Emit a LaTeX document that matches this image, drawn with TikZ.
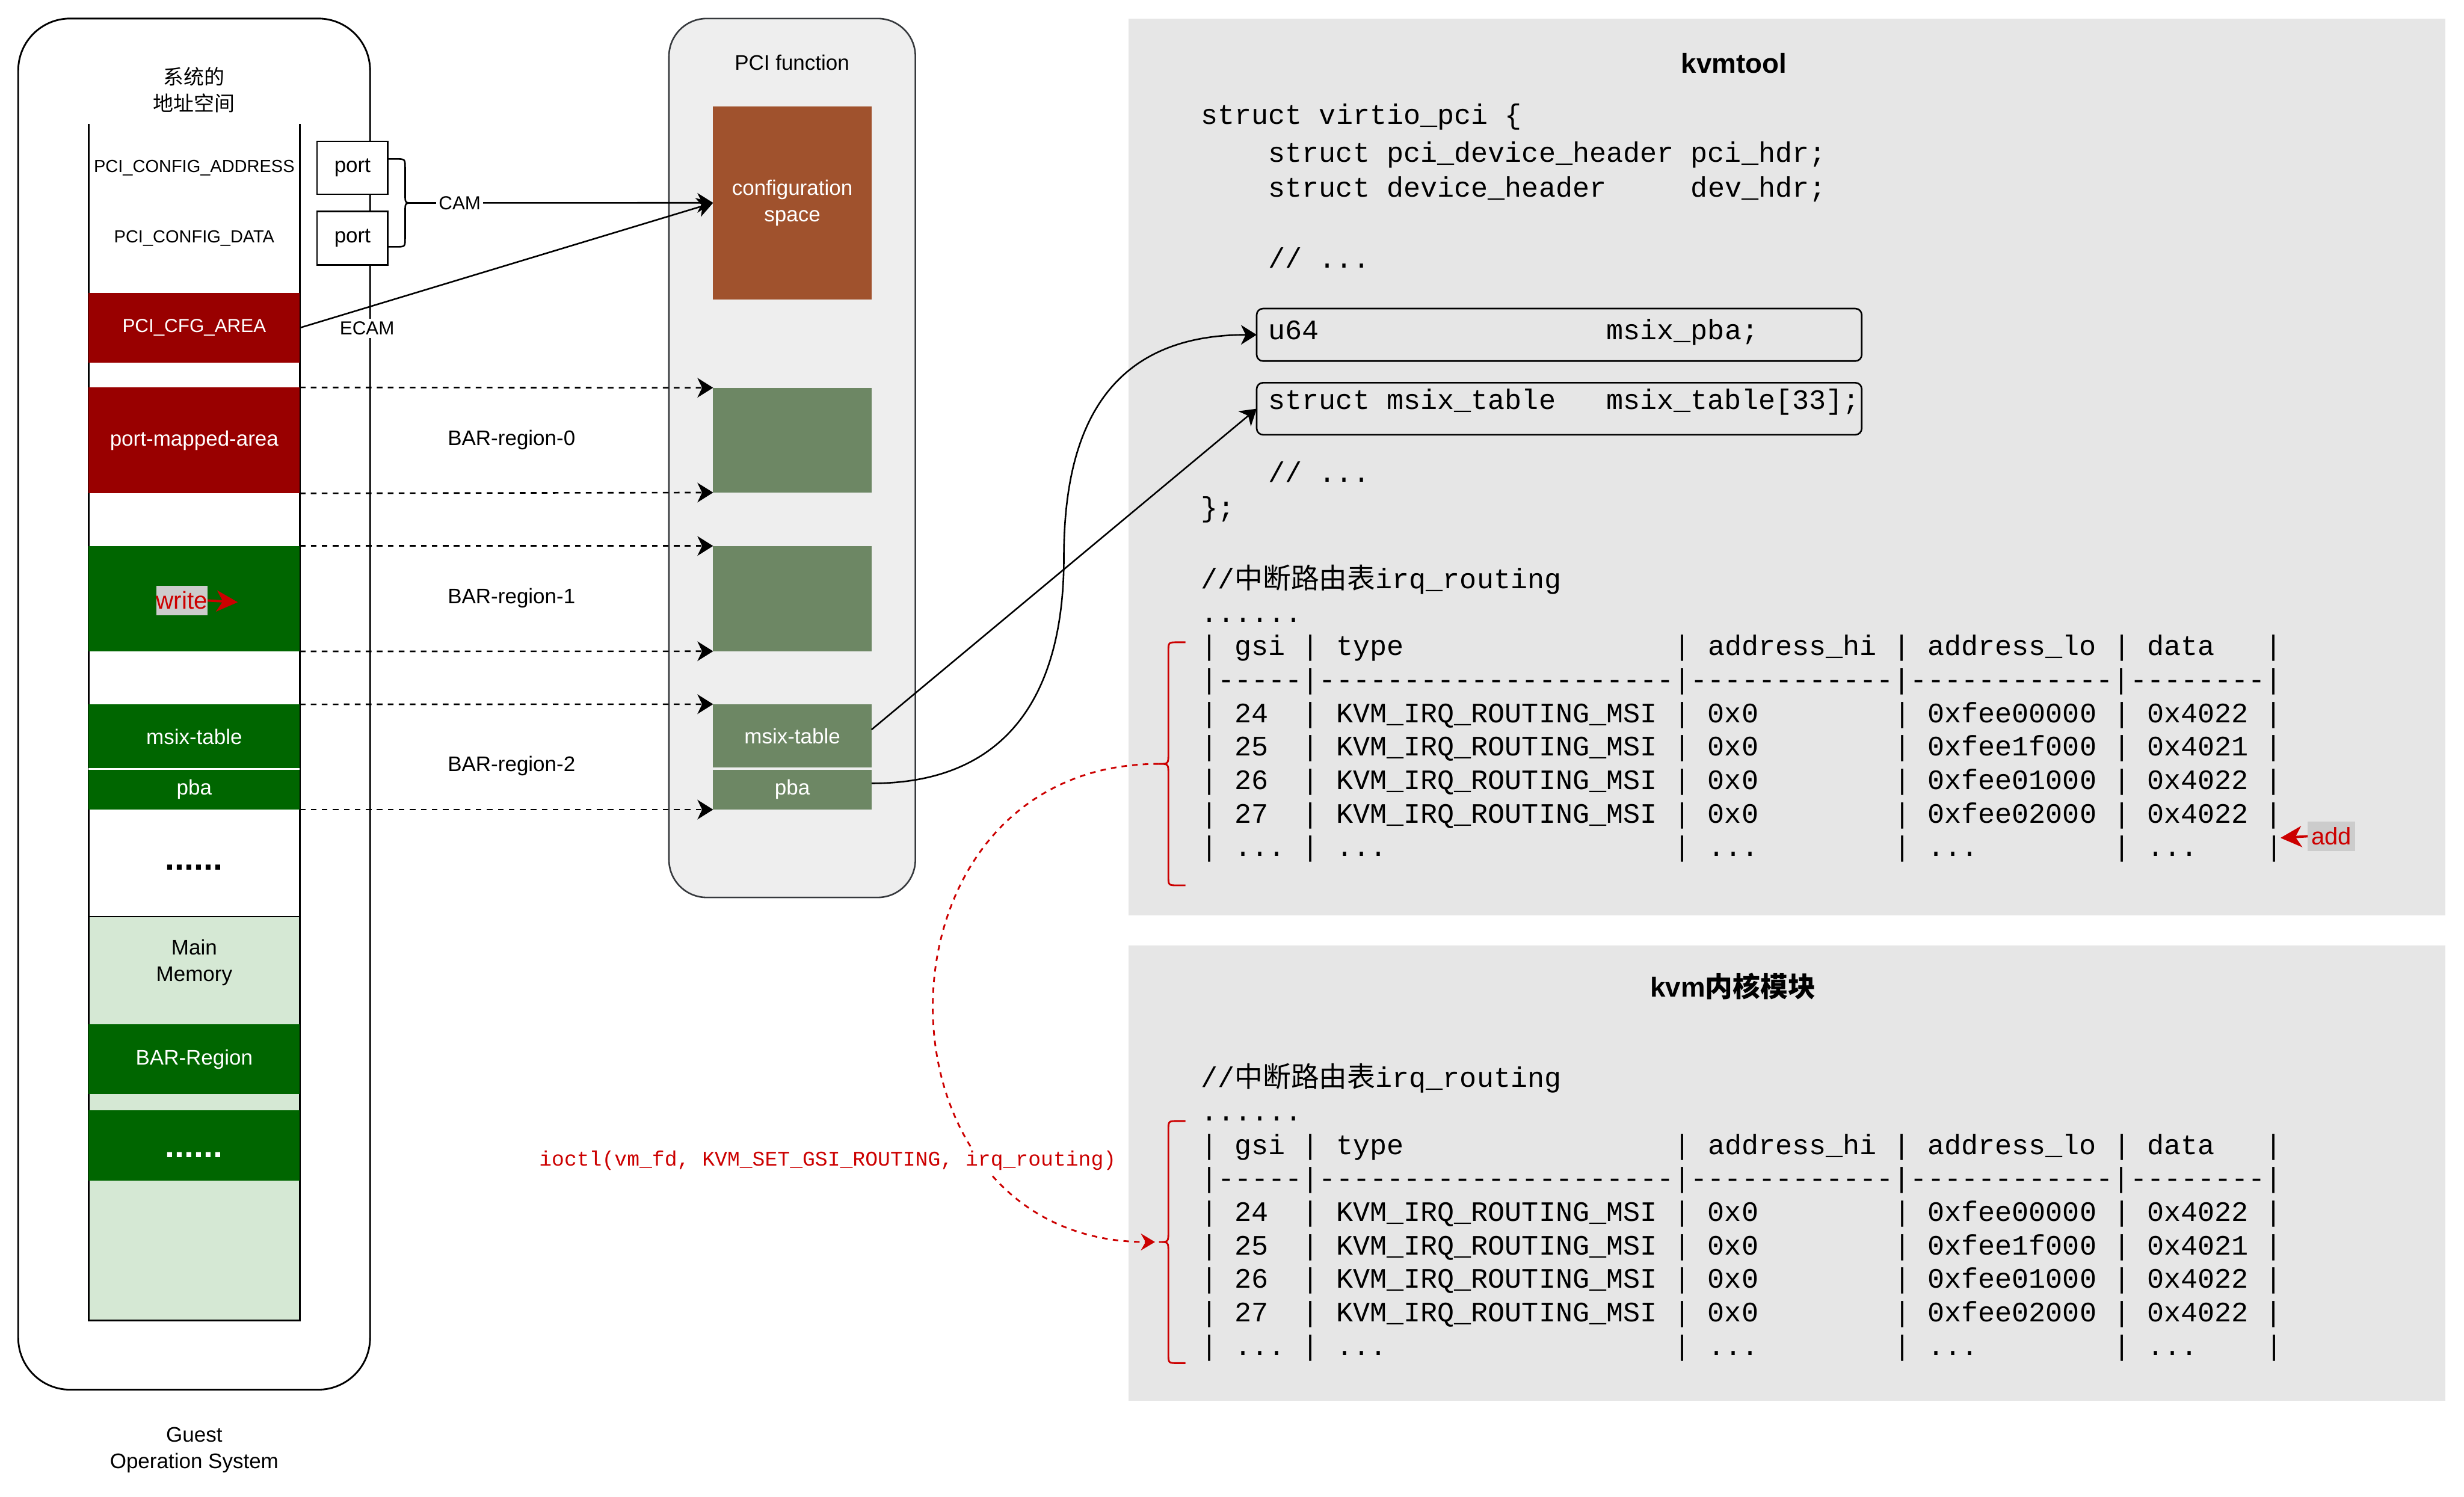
\documentclass[tikz,border=0pt]{standalone}
\usepackage{fontspec}
\setmainfont{Liberation Sans}
\setsansfont{Liberation Sans}
\setmonofont{Liberation Mono}
\newfontfamily\cjk{Noto Sans CJK SC}
\usetikzlibrary{arrows.meta}
\definecolor{darkred}{HTML}{990000}
\definecolor{dgreen}{HTML}{006600}
\definecolor{sienna}{HTML}{A0522D}
\definecolor{sage}{HTML}{6D8764}
\definecolor{mintg}{HTML}{D5E8D4}
\definecolor{pcifill}{HTML}{EEEEEE}
\definecolor{pcistroke}{HTML}{36393D}
\definecolor{panel}{HTML}{E6E6E6}
\definecolor{redl}{HTML}{CC0000}
\definecolor{wbg}{HTML}{CCCCCC}
\newcommand\mkbox[7]{\node[blk,#6,minimum width={(#4-#2)*1pt},minimum height={(#5-#3)*1pt}] (#1) at (#2,#3) {#7};}
\newcommand\redbrace[3]{\draw[rbr] (754.4,#1) -- (749.5,#1) .. controls (743.5,#1) .. (743.5,#1+6) -- (743.5,#2-6.5) .. controls (743.5,#2) .. (737.5,#2) .. controls (743.5,#2) .. (743.5,#2+6.5) -- (743.5,#3-6) .. controls (743.5,#3) .. (749.5,#3) -- (754.4,#3);}
\tikzset{
  blk/.style={inner sep=0pt, outer sep=0pt, anchor=north west},
  f13/.style={font=\fontsize{13.4}{16.8}\selectfont},
  lbl/.style={inner sep=0pt, align=center, f13},
  cline/.style={inner sep=0pt, anchor=base west, font=\ttfamily\fontsize{17.92}{21.3}\selectfont},
  arr/.style={-{Stealth[length=10pt,width=12.5pt,inset=3pt]}, line width=1pt},
  dsh/.style={arr, dash pattern=on 3.6pt off 3.4pt},
  warr/.style={-{Stealth[length=13.5pt,width=13.5pt,inset=4pt]}, line width=1.5pt, draw=redl},
  rbr/.style={draw=redl, line width=1.1pt},
}
\begin{document}
\begin{tikzpicture}[x=1pt,y=-1pt]
\fill[white] (0,0) rectangle (1568,952.45);
\useasboundingbox (0,0) rectangle (1568,952.45);

% ---------- Guest OS ----------
\mkbox{guest}{11.6}{11.8}{235.5}{884.5}{draw, line width=1.1pt, rounded corners=33pt}{}
\node[lbl, font=\cjk\fontsize{13}{16.8}\selectfont] (addrsp) at (123.6,57.4) {系统的\\地址空间};
\draw[line width=1pt] (56.4,79) -- (56.4,583.4);
\draw[line width=1pt] (190.8,79) -- (190.8,583.4);
\node[lbl, font=\fontsize{11.1}{13}\selectfont] (cfgaddr) at (123.6,106.8) {PCI\_CONFIG\_ADDRESS};
\node[lbl, font=\fontsize{11.1}{13}\selectfont] (cfgdata) at (123.6,151.6) {PCI\_CONFIG\_DATA};

\mkbox{port1}{201.8}{90}{246.8}{123.7}{draw, fill=white, line width=1pt, f13}{port}
\mkbox{port2}{201.8}{134.6}{246.8}{168.7}{draw, fill=white, line width=1pt, f13}{port}

\mkbox{cfgarea}{56.4}{186.3}{190.8}{231}{fill=darkred, text=white, font=\fontsize{12}{14}\selectfont}{PCI\_CFG\_AREA}
\mkbox{pmarea}{56.4}{246.6}{190.8}{314}{fill=darkred, text=white, f13}{port-mapped-area}
\mkbox{bar1L}{56.4}{347.5}{190.8}{414.6}{fill=dgreen}{}
\mkbox{msixL}{56.4}{448.3}{190.8}{489.4}{fill=dgreen, text=white, f13}{msix-table}
\mkbox{pbaL}{56.4}{489.4}{190.8}{515.3}{fill=dgreen, text=white, f13}{pba}
\draw[white, line width=1pt] (msixL.south west) -- (msixL.south east);
\node[inner sep=0pt, font=\bfseries\fontsize{22}{26}\selectfont] (dots1) at (123.6,552.2) {......};

\mkbox{mainmem}{56.4}{583.4}{190.8}{840.5}{draw, fill=mintg, line width=1pt}{}
\node[lbl] (mmtxt) at (123.6,612.5) {Main\\Memory};
\mkbox{barreg}{56.4}{652}{190.8}{696.5}{fill=dgreen, text=white, f13}{BAR-Region}
\mkbox{dotsg}{56.4}{706.6}{190.8}{751.5}{fill=dgreen}{}
\node[inner sep=0pt, text=white, font=\bfseries\fontsize{22}{26}\selectfont] (dots2) at (123.6,735) {......};
\node[lbl] (guestlbl) at (123.6,923) {Guest\\Operation System};

\mkbox{write}{99.4}{372.8}{132}{391.6}{fill=wbg, text=redl, font=\fontsize{15.5}{18}\selectfont}{write}
\coordinate (wtip) at (151.3,383.3);
\draw[warr] (write.east) -- (wtip);

% ---------- PCI function ----------
\mkbox{pcif}{425.7}{11.8}{582.5}{571.2}{draw=pcistroke, fill=pcifill, line width=1pt, rounded corners=24pt}{}
\node[lbl] (pcit) at (504,40) {PCI function};
\mkbox{config}{453.8}{67.6}{554.6}{190.6}{fill=sienna, text=white, f13, align=center}{configuration\\space}
\mkbox{bar0R}{453.8}{246.8}{554.6}{313.5}{fill=sage}{}
\mkbox{bar1R}{453.8}{347.5}{554.6}{414.5}{fill=sage}{}
\mkbox{msixR}{453.8}{448.2}{554.6}{488.6}{fill=sage, text=white, f13}{msix-table}
\mkbox{pbaR}{453.8}{489.9}{554.6}{515.3}{fill=sage, text=white, f13}{pba}

% ---------- CAM / ECAM ----------
\draw[line width=1pt] (246.8,101.2) -- (252,101.2) .. controls (257.8,101.2) .. (257.8,107) -- (257.8,123.4) .. controls (257.8,129.2) .. (262.3,129.2) .. controls (257.8,129.2) .. (257.8,135) -- (257.8,151.3) .. controls (257.8,157.1) .. (252,157.1) -- (246.8,157.1);
\coordinate (camtip) at (262.3,129.2);
\draw[arr] (camtip) -- (config.west) node[pos=0.158, fill=white, inner sep=1.5pt, font=\fontsize{12}{14}\selectfont] (cam) {CAM};
\draw[arr] (cfgarea.east) -- (config.west);
\node[fill=white, inner sep=2pt, font=\fontsize{12}{14}\selectfont] (ecam) at (233.6,209) {ECAM};

% ---------- BAR mappings ----------
\draw[dsh] (pmarea.north east) -- (bar0R.north west);
\draw[dsh] (pmarea.south east) -- (bar0R.south west);
\draw[dsh] (bar1L.north east) -- (bar1R.north west);
\draw[dsh] (bar1L.south east) -- (bar1R.south west);
\draw[dsh] (msixL.north east) -- (msixR.north west);
\draw[dsh] (pbaL.south east) -- (pbaR.south west);
\node[lbl] (br0) at (325.5,280) {BAR-region-0};
\node[lbl] (br1) at (325.5,380.5) {BAR-region-1};
\node[lbl] (br2) at (325.5,487.5) {BAR-region-2};

% ---------- kvmtool panel ----------
\mkbox{kvmtool}{718}{11.8}{1556}{582.5}{fill=panel}{}
\node[inner sep=0pt, font=\bfseries\fontsize{17.5}{21}\selectfont] (kvmtitle) at (1103.4,40.2) {kvmtool};
\mkbox{kvmmod}{718}{601.6}{1556}{891.7}{fill=panel}{}
\node[inner sep=0pt, font=\bfseries\fontsize{17.5}{21}\selectfont] (modtitle) at (1102.7,627.8) {kvm{\cjk 内核模块}};

\node[cline] (l1) at (764,79.2) {struct~virtio\_pci~\{};
\node[cline] (l2) at (807,103.1) {struct~pci\_device\_header~pci\_hdr;};
\node[cline] (l3) at (807,125.4) {struct~device\_header~~~~~dev\_hdr;};
\node[cline] (l4) at (807,170.7) {//~...};
\node[cline] (l5) at (807,216.0) {u64~~~~~~~~~~~~~~~~~msix\_pba;};
\node[cline] (l6) at (807,260.6) {struct~msix\_table~~~msix\_table[33];};
\node[cline] (l7) at (807,306.8) {//~...};
\node[cline] (l8) at (764,329) {\};};
\mkbox{u64box}{799.7}{196.4}{1184.7}{229.8}{draw, line width=1pt, rounded corners=4pt}{}
\mkbox{mtbox}{799.7}{243.6}{1184.7}{276.7}{draw, line width=1pt, rounded corners=4pt}{}

\foreach \off/\nm in {0/u,317.5/l}{
  \node[cline] (\nm cmt) at (764,374.6+\off) {//{\cjk 中断路由表}irq\_routing};
  \node[cline] (\nm dots) at (764,395.9+\off) {......};
  \node[cline] (\nm hdr) at (764,417.2+\off) {|~gsi~|~type~~~~~~~~~~~~~~~~|~address\_hi~|~address\_lo~|~data~~~|};
  \node[cline] (\nm sep) at (764,438.5+\off) {|-----|---------------------|------------|------------|--------|};
  \foreach \g/\lo/\d [count=\i] in {24/0xfee00000/0x4022,25/0xfee1f000/0x4021,26/0xfee01000/0x4022,27/0xfee02000/0x4022}
    \node[cline] (\nm r\i) at (764,438.5+21.3*\i+\off) {|~\g~~|~KVM\_IRQ\_ROUTING\_MSI~|~0x0~~~~~~~~|~\lo~|~\d~|};
  \node[cline] (\nm last) at (764,545.0+\off) {|~...~|~...~~~~~~~~~~~~~~~~~|~...~~~~~~~~|~...~~~~~~~~|~...~~~~|};
}

% ---------- connectors to kvmtool ----------
\draw[arr] ([yshift=4pt]msixR.east) -- (mtbox.west);
\draw[arr] ([yshift=4pt]pbaR.east) .. controls (650,498.6) and (677,430) .. (677,355) .. controls (677,280) and (700,213.1) .. (u64box.west);

% ---------- red braces and ioctl ----------
\redbrace{408.8}{486.2}{563.5}
\redbrace{713.5}{790.5}{867.6}
\coordinate (ubtip) at (737.5,486.2);
\coordinate (lbtip) at (735,790.5);
\draw[rbr, dash pattern=on 3.5pt off 3.3pt, -{Stealth[length=9pt,width=10.7pt,inset=3pt]}] (ubtip) .. controls (547,486.2) and (547,790.5) .. (lbtip);
\node[fill=white, inner sep=1.5pt, text=redl, font=\ttfamily\fontsize{13.3}{16}\selectfont] (ioctl) at (526.7,738.6) {ioctl(vm\_fd,~KVM\_SET\_GSI\_ROUTING,~irq\_routing)};

\mkbox{add}{1468.5}{522.8}{1498.6}{541.7}{fill=wbg, text=redl, font=\fontsize{15.3}{18}\selectfont}{add}
\coordinate (addtip) at (1451.2,533.3);
\draw[warr] (add.west) -- (addtip);
\end{tikzpicture}
\end{document}
